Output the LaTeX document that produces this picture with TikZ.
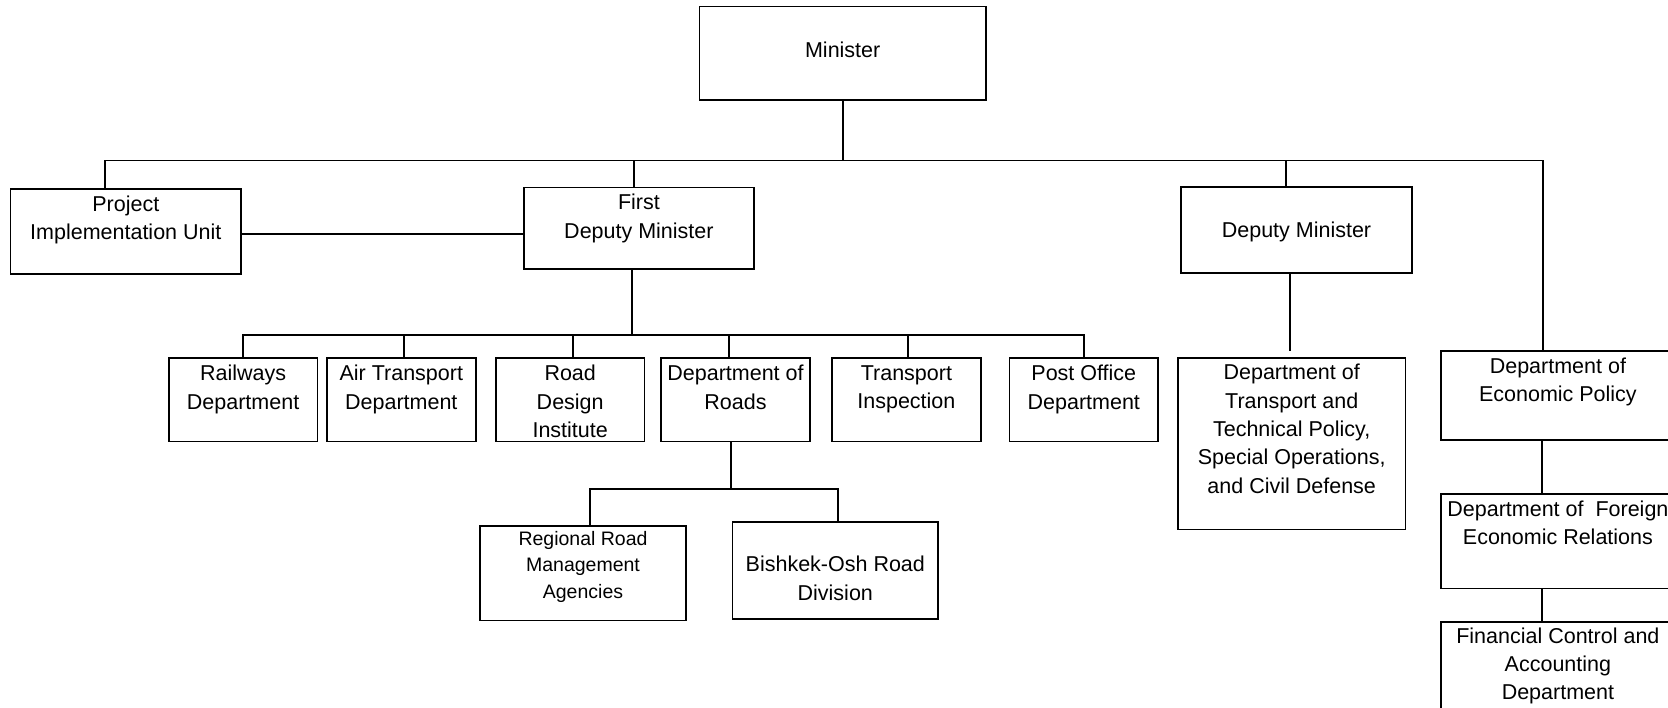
\documentclass[tikz,border=0pt]{standalone}
\usepackage{fontspec}
\setmainfont{Liberation Sans}
\usetikzlibrary{positioning}

\begin{document}
\begin{tikzpicture}[x=1pt, y=-1pt,
        unit/.style={rectangle, draw=black, line width=1.7pt, inner sep=0pt},
        txt/.style={anchor=north, align=center, inner sep=0pt, font=\fontsize{21.5}{28.3}\selectfont},
        smalltxt/.style={txt, font=\fontsize{19.5}{26.3}\selectfont},
        link/.style={draw=black, line width=1.7pt}
      ]
  \useasboundingbox (0,0) rectangle (1668,708);
  \clip (0,0) rectangle (1668,708);

  % top level
  \node[unit, minimum width=286.5, minimum height=93.3] (minister) at (842.7,53.3) {};
  \node[txt, below=36pt of minister.north] (minister-t) {Minister};

  \node[unit, minimum width=230.4, minimum height=85] (piu) at (125.8,231.5) {};
  \node[txt, below=7.7pt of piu.north] (piu-t) {Project\\Implementation Unit};
  \node[unit, minimum width=229.7, minimum height=81.3] (fdm) at (638.9,228.3) {};
  \node[txt, below=7.3pt of fdm.north] (fdm-t) {First\\Deputy Minister};
  \node[unit, minimum width=231, minimum height=85.4] (dm) at (1296.5,230) {};
  \node[txt, below=35.4pt of dm.north] (dm-t) {Deputy Minister};

  % departments under the first deputy
  \foreach \n/\cx/\t in {railways/243.1/{Railways\\Department},
                         air/401.3/{Air Transport\\Department},
                         rdi/570.2/{Road\\Design\\Institute},
                         roads/735.5/{Department of\\Roads},
                         insp/906.4/{Transport\\Inspection},
                         post/1083.8/{Post Office\\Department}} {
    \node[unit, minimum width=148.8, minimum height=83.2] (\n) at (\cx,399.9) {};
    \node[txt, below=7.7pt of \n.north] (\n-t) {\t};
  }

  \node[unit, minimum width=206, minimum height=94.3] (regional) at (583,573.2) {};
  \node[smalltxt, below=6pt of regional.north] (regional-t) {Regional Road\\Management\\Agencies};
  \node[unit, minimum width=205.4, minimum height=97.3] (bishkek) at (835.3,570.3) {};
  \node[txt, below=35.3pt of bishkek.north] (bishkek-t) {Bishkek-Osh Road\\Division};

  % right hand side
  \node[unit, minimum width=227.3, minimum height=171.3] (policy) at (1291.7,443.7) {};
  \node[txt, below=7pt of policy.north] (policy-t) {Department of\\Transport and\\Technical Policy,\\Special Operations,\\and Civil Defense};
  \node[unit, minimum width=234.3, minimum height=88.7] (econ) at (1557.9,395.7) {};
  \node[txt, below=7pt of econ.north] (econ-t) {Department of\\Economic Policy};
  \node[unit, minimum width=234.3, minimum height=94.3] (foreign) at (1557.9,541.2) {};
  \node[txt, below=7.7pt of foreign.north] (foreign-t) {Department of\ \ Foreign\\Economic Relations};
  \node[unit, minimum width=234.3, minimum height=94.3] (financial) at (1557.9,668.9) {};
  \node[txt, below=6.6pt of financial.north] (financial-t) {Financial Control and\\Accounting\\Department};

  % connectors
  \path ([xshift=-21]piu.north) ++(0,-27.5) coordinate (bus1);
  \draw[link] ([xshift=-21]piu.north) -- (bus1) -| ([xshift=-14.6]econ.north);
  \draw[link] (minister.south) -- (minister.south |- bus1);
  \draw[link] ([xshift=-5]fdm.north) -- ([xshift=-5]fdm.north |- bus1);
  \draw[link] ([xshift=-10.5]dm.north) -- ([xshift=-10.5]dm.north |- bus1);
  \draw[link] ([yshift=-2.5pt]piu.east) -- ([yshift=-2.5pt]piu.east -| fdm.west);

  \coordinate (bus2) at (0,335);
  \draw[link] ([xshift=-7]fdm.south) -- ([xshift=-7]fdm.south |- bus2);
  \draw[link] (railways.north) -- (railways.north |- bus2) -| (post.north);
  \foreach \n/\dx in {air/2.7, rdi/2.8, roads/-6.5, insp/1.9}
    \draw[link] ([xshift=\dx]\n.north) -- ([xshift=\dx]\n.north |- bus2);

  \coordinate (bus3) at (0,489);
  \coordinate (bk-top) at ([xshift=2.7]bishkek.north);
  \draw[link] ([xshift=-4.5]roads.south) -- ([xshift=-4.5]roads.south |- bus3);
  \draw[link] ([xshift=6.8]regional.north) |- (bk-top |- bus3) -- (bk-top);

  \coordinate (dm-end) at ([xshift=-1.7,yshift=6.3pt]policy.north);
  \draw[link] (dm-end |- dm.south) -- (dm-end);

  \draw[link] ([xshift=-16]econ.south) -- ([xshift=-16]foreign.north);
  \draw[link] ([xshift=-16]foreign.south) -- ([xshift=-16]financial.north);
\end{tikzpicture}
\end{document}
